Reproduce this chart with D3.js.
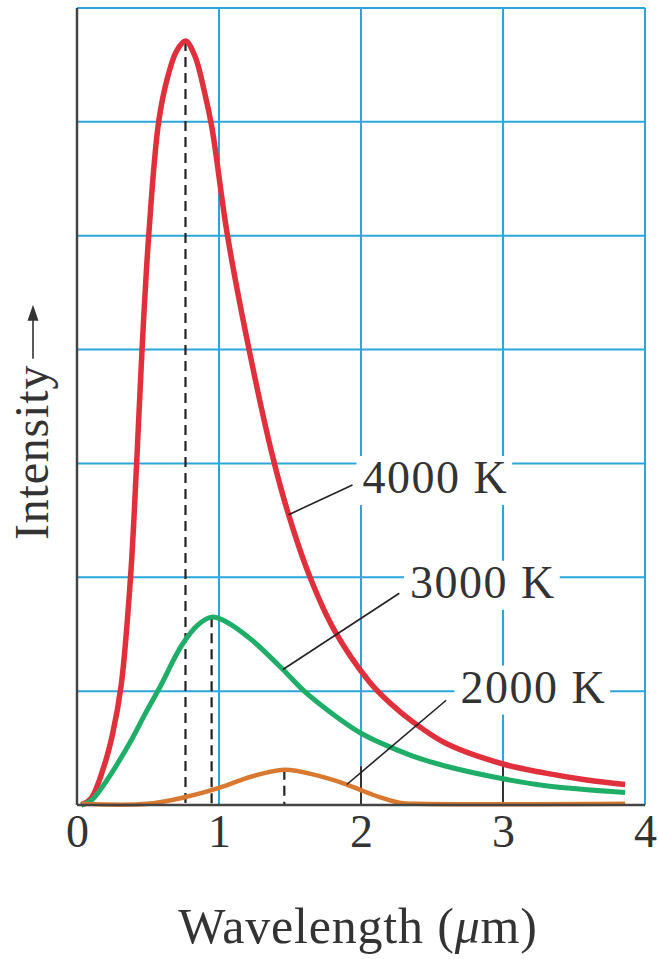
<!DOCTYPE html>
<meta charset="utf-8">
<style>
  body { margin: 0; background: #fff; }
  text { font-family: "Liberation Serif", "DejaVu Serif", serif; fill: #333; }
</style>
<div id="chart"></div>
<script src="https://d3js.org/d3.v7.min.js"></script>
<script>

// curves: [wavelength (um), intensity in grid units]
var curve4000 = [
  [0.03, 0], [0.1, 0.06], [0.19, 0.34], [0.25, 0.62], [0.311, 1.05], [0.377, 2],
  [0.42, 3], [0.458, 4], [0.505, 5], [0.575, 6], [0.64, 6.4], [0.7, 6.62],
  [0.764, 6.71], [0.83, 6.58], [0.9, 6.25], [0.95, 5.95], [1.06, 5], [1.22, 3.95],
  [1.38, 3.05], [1.49, 2.55], [1.635, 2.02], [1.81, 1.54], [2.06, 1.08], [2.2, 0.9],
  [2.365, 0.73], [2.6, 0.54], [3.0, 0.36], [3.3, 0.28], [3.59, 0.22], [3.86, 0.18]
];
var curve3000 = [
  [0.03, 0], [0.1, 0.04], [0.19, 0.18], [0.36, 0.52], [0.48, 0.8], [0.59, 1.05],
  [0.736, 1.4], [0.85, 1.58], [0.948, 1.65], [1.05, 1.61], [1.23, 1.45],
  [1.45, 1.19], [1.6, 1.0], [1.8, 0.8], [2.0, 0.63], [2.13, 0.55],
  [2.365, 0.43], [2.6, 0.34], [3.0, 0.23], [3.3, 0.17], [3.86, 0.11]
];
var curve2000 = [
  [0.03, 0.01], [0.5, 0.01], [0.764, 0.07], [1.0, 0.15], [1.23, 0.25],
  [1.46, 0.31], [1.69, 0.26], [1.9, 0.18], [2.0, 0.13], [2.13, 0.07],
  [2.27, 0.02], [2.4, 0.01], [3.86, 0.01]
];
var temps = ["4000 K", "3000 K", "2000 K"];
var xTicks = [0, 1, 2, 3, 4];
var yGrid = [1, 2, 3, 4, 5, 6, 7];
var darkTicks = [2, 3];

var series = [
  {name: temps[0], values: curve4000, color: "#e0303b", width: 5.5},
  {name: temps[1], values: curve3000, color: "#1fae68", width: 5},
  {name: temps[2], values: curve2000, color: "#d9792f", width: 4.5}
];

// where each temperature label sits and where its pointer starts/ends
var labelSpots = [
  {at: [2.01, 2.74], from: [1.49, 2.55], to: [1.94, 2.81]},
  {at: [2.345, 1.82], from: [1.45, 1.19], to: [2.27, 1.86]},
  {at: [2.70, 0.90], from: [1.9, 0.18], to: [2.6, 0.92]}
];

var margin = {top: 8, right: 13, bottom: 154, left: 77},
    width = 658 - margin.left - margin.right,
    height = 959 - margin.top - margin.bottom;

var svg = d3.select("#chart")
  .append("svg")
    .attr("width", 658)
    .attr("height", 959);

var g = svg.append("g")
  .attr("transform", "translate(" + margin.left + "," + margin.top + ")");

var x = d3.scaleLinear().domain([0, 4]).range([0, width]);
var y = d3.scaleLinear().domain([0, 7]).range([height, 0]);

var gridLayer = g.append("g");
var maskLayer = g.append("g");
var markLayer = g.append("g");
var textLayer = g.append("g");

var blue = "#2ba6dd";

// blue grid
gridLayer.selectAll(".hg").data(yGrid).enter().append("line")
  .attr("x1", 0).attr("x2", width)
  .attr("y1", function(d) { return y(d); }).attr("y2", function(d) { return y(d); })
  .attr("stroke", blue).attr("stroke-width", 2);
gridLayer.selectAll(".vg").data(xTicks.slice(1)).enter().append("line")
  .attr("x1", function(d) { return x(d); }).attr("x2", function(d) { return x(d); })
  .attr("y1", 0).attr("y2", height)
  .attr("stroke", blue).attr("stroke-width", 2);
// short dark ticks standing on the axis
gridLayer.selectAll(".dt").data(darkTicks).enter().append("line")
  .attr("x1", function(d) { return x(d); }).attr("x2", function(d) { return x(d); })
  .attr("y1", height).attr("y2", y(0.34))
  .attr("stroke", "#333").attr("stroke-width", 2);

// dashed drop lines from each peak
series.forEach(function(s) {
  var pk = d3.greatest(s.values, function(d) { return d[1]; });
  markLayer.append("line")
    .attr("x1", x(pk[0])).attr("x2", x(pk[0]))
    .attr("y1", y(pk[1])).attr("y2", height)
    .attr("stroke", "#222").attr("stroke-width", 2.2)
    .attr("stroke-dasharray", "10,6");
});

var line = d3.line()
  .x(function(d) { return x(d[0]); })
  .y(function(d) { return y(d[1]); })
  .curve(d3.curveCatmullRom.alpha(0.5));

markLayer.selectAll(".curve").data(series).enter().append("path")
  .attr("d", function(d) { return line(d.values); })
  .attr("fill", "none")
  .attr("stroke", function(d) { return d.color; })
  .attr("stroke-width", function(d) { return d.width; })
  .attr("stroke-linejoin", "round");

// axes lines
markLayer.append("line").attr("x1", 0).attr("x2", 0).attr("y1", 0).attr("y2", height)
  .attr("stroke", "#444").attr("stroke-width", 2.5);
markLayer.append("line").attr("x1", 0).attr("x2", width).attr("y1", height).attr("y2", height)
  .attr("stroke", "#444").attr("stroke-width", 2.5);

// temperature labels with pointer lines
labelSpots.forEach(function(l, i) {
  markLayer.append("line")
    .attr("x1", x(l.from[0])).attr("y1", y(l.from[1]))
    .attr("x2", x(l.to[0])).attr("y2", y(l.to[1]))
    .attr("stroke", "#222").attr("stroke-width", 1.6);
  var t = textLayer.append("text")
    .attr("x", x(l.at[0])).attr("y", y(l.at[1]))
    .style("font-size", "46px")
    .style("letter-spacing", "1.5px")
    .text(temps[i]);
  var b = t.node().getBBox();
  maskLayer.append("rect")
    .attr("x", b.x - 6).attr("y", b.y + 4)
    .attr("width", b.width + 10).attr("height", b.height - 2)
    .attr("fill", "#fff");
});

// x tick labels
g.append("g")
  .attr("transform", "translate(0," + height + ")")
  .call(d3.axisBottom(x).tickValues(xTicks).tickFormat(d3.format("d")).tickSize(0).tickPadding(0))
  .call(function(a) { a.select(".domain").remove(); })
  .selectAll("text")
    .attr("y", 42).attr("dy", null)
    .style("font-size", "46px")
    .style("font-family", "Liberation Serif, serif")
    .attr("fill", "#333");

// x axis title
var xt = svg.append("text")
  .attr("x", 358).attr("y", 943)
  .attr("text-anchor", "middle")
  .style("font-size", "50px")
  .style("letter-spacing", "0.8px");
xt.append("tspan").text("Wavelength (");
xt.append("tspan").style("font-style", "italic").text("\u03bc");
xt.append("tspan").text("m)");

// y axis title with arrow
var yl = svg.append("g").attr("transform", "translate(48,540) rotate(-90)");
var yt = yl.append("text").attr("x", 0).attr("y", 0)
  .style("font-size", "48px").style("letter-spacing", "0.8px").text("Intensity");
var len = yt.node().getComputedTextLength();
yl.append("line")
  .attr("x1", len + 6).attr("x2", len + 46)
  .attr("y1", -15).attr("y2", -15)
  .attr("stroke", "#333").attr("stroke-width", 1.6);
yl.append("path")
  .attr("d", "M" + (len + 60) + ",-15 L" + (len + 44) + ",-20.5 L" + (len + 44) + ",-9.5 Z")
  .attr("fill", "#333");

</script>
